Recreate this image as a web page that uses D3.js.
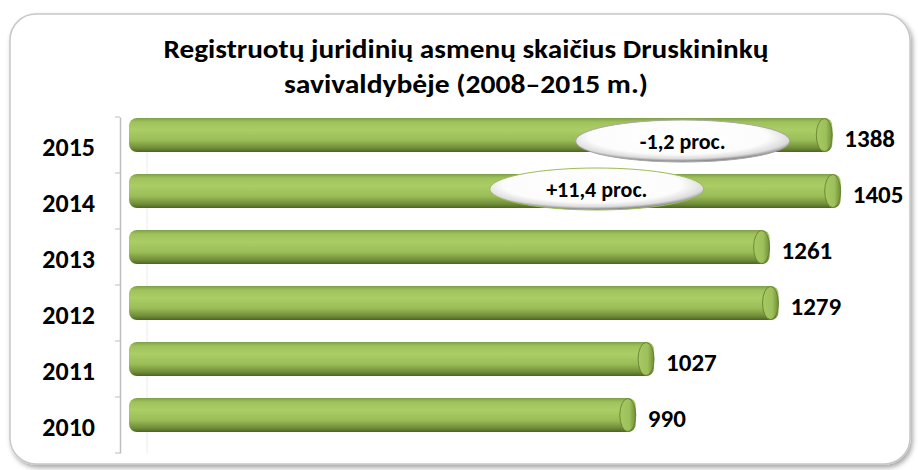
<!DOCTYPE html>
<html>
<head>
<meta charset="utf-8">
<script src="https://cdn.jsdelivr.net/npm/d3@7"></script>
<style>
  body { margin: 0; background: #fff; }
  text { font-family: Carlito, Calibri, Lato, "Open Sans", sans-serif; font-weight: bold; }
</style>
</head>
<body>
<svg id="chart" width="918" height="470"></svg>
<script>
// data
var years = ["2015", "2014", "2013", "2012", "2011", "2010"];
var values = [1388, 1405, 1261, 1279, 1027, 990];
var notes = ["-1,2 proc.", "+11,4 proc."];
var noteYears = ["2015", "2014"];
var noteAt = [1085, 911];
var titleLines = ["Registruotų juridinių asmenų skaičius Druskininkų", "savivaldybėje (2008–2015 m.)"];

var width = 918, height = 470;
var svg = d3.select("#chart");
var defs = svg.append("defs");

// frame shadow
var f = defs.append("filter").attr("id", "shadow").attr("x", "-5%").attr("y", "-5%").attr("width", "110%").attr("height", "110%");
f.append("feDropShadow").attr("dx", 2).attr("dy", 3).attr("stdDeviation", 2.5).attr("flood-color", "#000").attr("flood-opacity", 0.35);

// bar gradient (cylinder look)
var g1 = defs.append("linearGradient").attr("id", "barGrad").attr("x1", 0).attr("y1", 0).attr("x2", 0).attr("y2", 1);
g1.append("stop").attr("offset", "0%").attr("stop-color", "#819f46");
g1.append("stop").attr("offset", "12%").attr("stop-color", "#9fc25c");
g1.append("stop").attr("offset", "35%").attr("stop-color", "#aacd66");
g1.append("stop").attr("offset", "65%").attr("stop-color", "#9bbd58");
g1.append("stop").attr("offset", "88%").attr("stop-color", "#708e37");
g1.append("stop").attr("offset", "100%").attr("stop-color", "#4e6424");

var g2 = defs.append("linearGradient").attr("id", "capGrad").attr("x1", 0).attr("y1", 0).attr("x2", 1).attr("y2", 0);
g2.append("stop").attr("offset", "0%").attr("stop-color", "#a6c962");
g2.append("stop").attr("offset", "60%").attr("stop-color", "#9ec05b");
g2.append("stop").attr("offset", "100%").attr("stop-color", "#6f8d36");

// bubble gradient
var g3 = defs.append("radialGradient").attr("id", "bubGrad").attr("cx", "48%").attr("cy", "40%").attr("r", "58%");
g3.append("stop").attr("offset", "0%").attr("stop-color", "#ffffff");
g3.append("stop").attr("offset", "72%").attr("stop-color", "#fcfcfc");
g3.append("stop").attr("offset", "90%").attr("stop-color", "#dcdcdc");
g3.append("stop").attr("offset", "100%").attr("stop-color", "#8c8c8c");

// frame
svg.append("rect")
  .attr("x", 10).attr("y", 14).attr("width", 900).attr("height", 450)
  .attr("rx", 26).attr("ry", 26)
  .attr("fill", "#fff").attr("stroke", "#c8c8c8").attr("stroke-width", 1.5)
  .attr("filter", "url(#shadow)");

// title
var titleLen = [605, 364];
svg.selectAll(".title").data(titleLines).enter().append("text")
  .attr("x", 466)
  .attr("y", function(d, i) { return 58 + i * 35; })
  .attr("text-anchor", "middle")
  .attr("textLength", function(d, i) { return titleLen[i]; })
  .attr("lengthAdjust", "spacingAndGlyphs")
  .style("font-size", "27px")
  .style("fill", "#000")
  .text(function(d) { return d; });

// scales
var x = d3.scaleLinear().domain([0, 1600]).range([147, 937]);
var y = d3.scaleBand().domain(years).range([117, 453]).paddingInner(0);
var barH = 34, capR = 8, lead = 18;

// faint gridline at zero
svg.append("line")
  .attr("x1", x(0)).attr("x2", x(0)).attr("y1", 117).attr("y2", 453)
  .attr("stroke", "#ececec");

// y axis
var yAxis = d3.axisLeft(y).tickSizeOuter(0).tickFormat("");
var ga = svg.append("g").attr("transform", "translate(120,0)").call(yAxis);
ga.select(".domain").attr("stroke", "#bfbfbf").attr("stroke-width", 1.5);
ga.selectAll(".tick").remove();
// ticks at band edges
ga.selectAll(".edge").data(years.concat(["end"])).enter().append("line")
  .attr("x1", -5).attr("x2", 0)
  .attr("y1", function(d, i) { return 117 + i * y.bandwidth(); })
  .attr("y2", function(d, i) { return 117 + i * y.bandwidth(); })
  .attr("stroke", "#bfbfbf");

// year labels
svg.selectAll(".year").data(years).enter().append("text")
  .attr("x", 95)
  .attr("y", function(d) { return y(d) + y.bandwidth() / 2 + 2; })
  .attr("dy", "0.35em")
  .attr("text-anchor", "end")
  .style("font-size", "26px")
  .text(function(d) { return d; });

// bars
var bars = svg.selectAll(".bar").data(values).enter().append("g");
bars.append("rect")
  .attr("x", x(0) - lead)
  .attr("y", function(d, i) { return y(years[i]) + 1; })
  .attr("width", function(d) { return x(d) - x(0) + lead; })
  .attr("height", barH)
  .attr("rx", capR).attr("ry", capR)
  .attr("fill", "url(#barGrad)");
bars.append("ellipse")
  .attr("cx", function(d) { return x(d) - capR; })
  .attr("cy", function(d, i) { return y(years[i]) + 1 + barH / 2; })
  .attr("rx", capR).attr("ry", barH / 2 - 0.5)
  .attr("fill", "url(#capGrad)")
  .attr("stroke", "#5f7a2c").attr("stroke-width", 0.8);

// value labels
svg.selectAll(".val").data(values).enter().append("text")
  .attr("x", function(d) { return x(d) + 12; })
  .attr("y", function(d, i) { return y(years[i]) + 1 + barH / 2 + 3; })
  .attr("dy", "0.35em")
  .style("font-size", "25px")
  .text(function(d) { return d; });

// change bubbles
var bub = svg.selectAll(".bub").data(notes).enter().append("g")
  .attr("transform", function(d, i) {
    return "translate(" + x(noteAt[i]) + "," + (y(noteYears[i]) + 1 + barH / 2 + (i ? -2 : 6)) + ")";
  });
bub.append("ellipse")
  .attr("rx", 107).attr("ry", 21)
  .attr("fill", "url(#bubGrad)")
  .attr("stroke", function(d, i) { return i ? "#9bbb59" : "#a6a6a6"; })
  .attr("stroke-width", 1);
bub.append("text")
  .attr("text-anchor", "middle")
  .attr("dy", "0.35em")
  .style("font-size", "22px")
  .text(function(d) { return d; });
</script>
</body>
</html>
